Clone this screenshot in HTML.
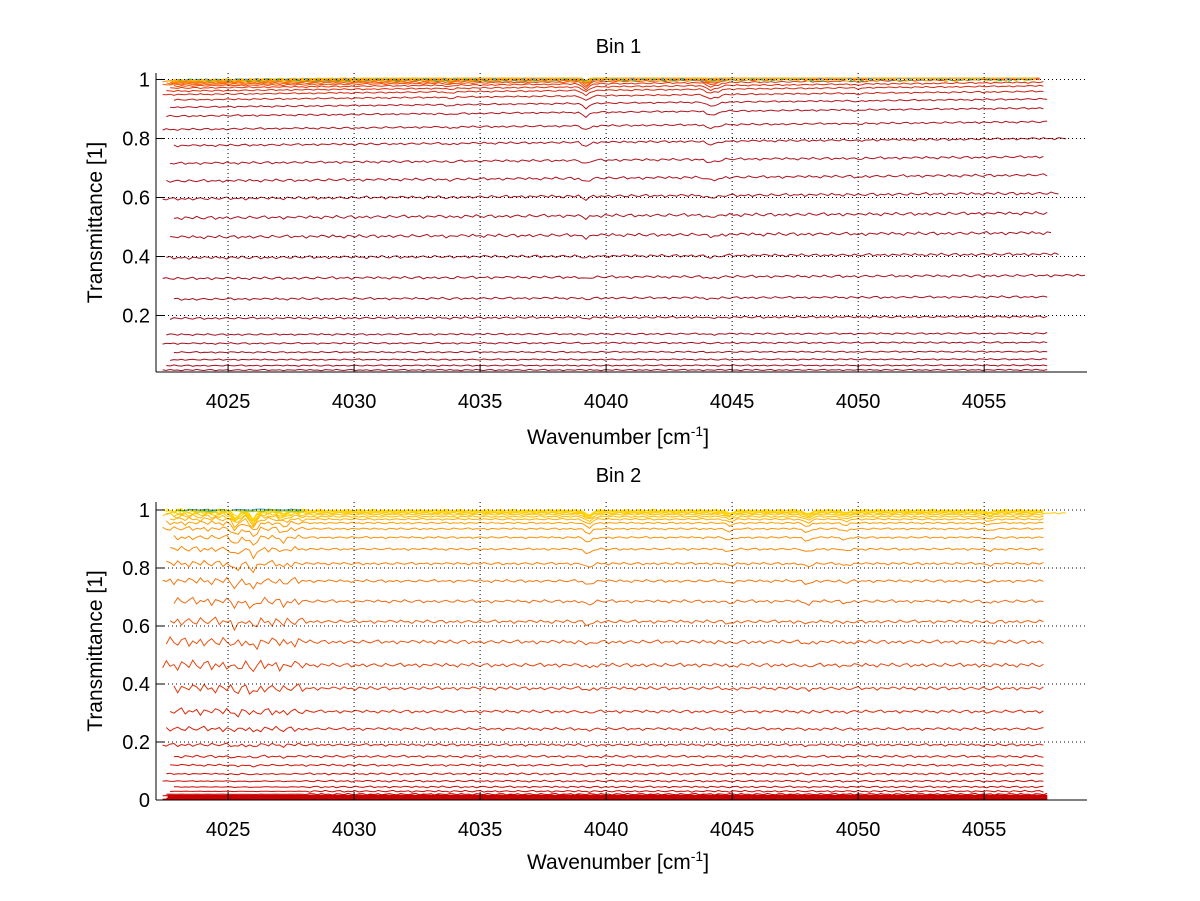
<!DOCTYPE html>
<html><head><meta charset="utf-8"><style>
html,body{margin:0;padding:0;background:#fff}
svg{display:block}
text{font-family:"Liberation Sans",sans-serif;fill:#000}
</style></head><body>
<svg id="chart" width="1200" height="901" viewBox="0 0 1200 901">
<rect width="1200" height="901" fill="#fff"/>
<g id="ax1"></g>
<g id="ax2"></g>
</svg>
<script>
// ---- data ----
const xTicks=[4025,4030,4035,4040,4045,4050,4055];
const bin1YTicks=[0.2,0.4,0.6,0.8,1];
const bin2YTicks=[0,0.2,0.4,0.6,0.8,1];
const bin1Levels=[0.015,0.03,0.05,0.075,0.105,0.135,0.19,0.255,0.325,0.395,0.465,0.53,0.595,0.655,0.715,0.775,0.83,0.875,0.905,0.93,0.948,0.96,0.97,0.977,0.982,0.986,0.989,0.991,0.993,0.995,0.997,0.998];
const bin1Ends=[4057.6,4057.6,4057.6,4057.6,4057.6,4057.6,4057.6,4057.6,4059.1,4058.0,4057.8,4057.6,4058.0,4057.6,4057.5,4058.3,4057.6,4057.5,4057.6,4057.4,4057.4,4057.4,4057.3,4057.3,4057.3,4057.3,4057.2,4057.2,4057.2,4057.2,4057.2,4057.2];
const bin1DipPos=[4039.2,4044.1,4044.4,4033.8,4050.0];
const bin1DipDepth=[0.018,0.014,0.01,0.005,0.004];
const bin2Levels=[0.003,0.006,0.009,0.012,0.015,0.02,0.03,0.045,0.065,0.09,0.12,0.15,0.19,0.245,0.305,0.385,0.465,0.545,0.615,0.685,0.755,0.815,0.865,0.905,0.935,0.955,0.968,0.977,0.984,0.989,0.992,0.995,0.997,0.999];
const bin2Ends=[4057.6,4057.6,4057.6,4057.6,4057.6,4057.6,4057.4,4057.4,4057.4,4057.4,4057.4,4057.4,4057.4,4057.4,4057.4,4057.4,4057.4,4057.4,4057.4,4057.4,4057.4,4057.4,4057.4,4057.4,4057.4,4057.4,4057.4,4057.4,4057.4,4058.3,4057.4,4057.4,4057.4,4057.4];
const bin2DipPos=[4025.3,4026.0,4027.2,4039.3,4044.9,4048.0,4049.5,4055.2];
const bin2DipDepth=[0.025,0.03,0.012,0.018,0.01,0.013,0.008,0.007];
const wiggle=[0.3,-0.5,0.8,-0.2,0.1,-0.9,0.6,0.2,-0.4,0.9,-0.1,-0.6,0.4,0.7,-0.8,0.2,-0.3,0.5,-0.7,0.1,0.6,-0.2,-0.5,0.8,0.0,-0.4,0.3,0.9,-0.6,0.2,-0.1,0.5,-0.9,0.4,0.1,-0.3,0.7];

// ---- layout ----
const NS="http://www.w3.org/2000/svg";
function mk(parent,tag,attrs){const e=document.createElementNS(NS,tag);for(const k in attrs)e.setAttribute(k,attrs[k]);parent.appendChild(e);return e;}
function colorFor(t,bin){
  const stops=bin===1?[[0,[160,16,32]],[0.9,[176,20,30]],[0.97,[230,50,10]],[0.99,[255,120,0]],[1,[255,200,0]]]
                     :[[0,[200,0,0]],[0.3,[220,40,10]],[0.7,[240,110,20]],[0.95,[255,150,0]],[1,[255,215,0]]];
  for(let i=1;i<stops.length;i++){if(t<=stops[i][0]){const a=stops[i-1],b=stops[i];const f=(t-a[0])/(b[0]-a[0]);
    const c=a[1].map((v,j)=>Math.round(v+(b[1][j]-v)*f));return `rgb(${c[0]},${c[1]},${c[2]})`;}}
  return "rgb(255,215,0)";
}
function drawAxes(g,cfg){
  const X=v=>cfg.left+(v-cfg.xmin)*(cfg.right-cfg.left)/(cfg.xmax-cfg.xmin);
  const Y=t=>cfg.y0-t*cfg.ppu;
  const sg=mk(g,"g",{});
  
  
  cfg.levels.forEach((lv,s)=>{
    let d="";const start=4022.4+(s%4)*0.15;
    for(let i=0,v=start;v<=cfg.ends[s];i++,v+=0.15){
      let amp=cfg.amp*(0.3+Math.min(lv,1-lv)*2+0.3);
      if(cfg.bin===2&&v<4028)amp*=2.5*Math.min(1,lv*3);
      let t=lv*(1+cfg.slope*(v-4022))+wiggle[(i+s*7)%wiggle.length]*amp;
      cfg.dipPos.forEach((p,k)=>{const dx=(v-p)/0.18;t-=cfg.dipDepth[k]*lv*Math.exp(-dx*dx);});
      t=Math.min(t,1.004);
      d+=(d?"L":"M")+X(v).toFixed(1)+","+Y(t).toFixed(1);
    }
    const p=mk(sg,"path",{d:d,fill:"none",stroke:colorFor(lv,cfg.bin),"stroke-width":1});
    
    
  });
  [["#30b040",0.998],["#40a0c0",1.0],["#c8d020",0.996]].forEach((c,k)=>{
    let d="";for(let i=0,v=4023+k*0.3;v<(cfg.bin===1?4057:4028);i++,v+=0.2){
      const t=c[1]+wiggle[(i*3+k)%wiggle.length]*0.004;d+=(d?"L":"M")+X(v).toFixed(1)+","+Y(t).toFixed(1);}
    const p=mk(sg,"path",{d:d,fill:"none",stroke:c[0],"stroke-width":1,"stroke-dasharray":cfg.bin===1?"4,6":"none"});
    
    
  });
  if(cfg.bin===2){const r=mk(sg,"rect",{x:X(4022.6),y:Y(0.018),width:X(4057.5)-X(4022.6),height:Y(0)-Y(0.018),fill:"#c80000"});
    }
  const gg=mk(g,"g",{stroke:"#000","stroke-width":1,"stroke-dasharray":"1,3"});
  
  
  xTicks.forEach(v=>mk(gg,"line",{x1:X(v),x2:X(v),y1:cfg.top,y2:cfg.bottom}));
  cfg.yTicks.forEach(t=>mk(gg,"line",{x1:cfg.left,x2:cfg.right,y1:Y(t),y2:Y(t)}));
  const ag=mk(g,"g",{stroke:"#000","stroke-width":1});
  mk(ag,"line",{x1:cfg.left,x2:cfg.left,y1:cfg.top,y2:cfg.bottom});
  mk(ag,"line",{x1:cfg.left,x2:cfg.right,y1:cfg.bottom,y2:cfg.bottom});
  xTicks.forEach(v=>{mk(ag,"line",{x1:X(v),x2:X(v),y1:cfg.bottom,y2:cfg.bottom-8});
    const tx=mk(g,"text",{x:X(v),y:cfg.bottom+36,"font-size":20,"text-anchor":"middle"});tx.textContent=v;
    
    });
  cfg.yTicks.forEach(t=>{mk(ag,"line",{x1:cfg.left,x2:cfg.left+8,y1:Y(t),y2:Y(t)});
    const tx=mk(g,"text",{x:cfg.left-6,y:Y(t)+7,"font-size":20,"text-anchor":"end"});tx.textContent=String(t);
    
    });
  const ti=mk(g,"text",{x:(cfg.left+cfg.right)/2-3,y:cfg.top-20,"font-size":20,"text-anchor":"middle"});ti.textContent=cfg.title;
  
  
  const xl=mk(g,"text",{x:618,y:cfg.bottom+cfg.xlOff,"font-size":21,"text-anchor":"middle"});
  xl.innerHTML='Wavenumber [cm<tspan dy="-8" font-size="14">-1</tspan><tspan dy="8">]</tspan>';
  
  
  const cy=(cfg.top+cfg.bottom)/2;
  const yl=mk(g,"text",{x:102,y:cy,"font-size":21,"text-anchor":"middle",transform:`rotate(-90 102 ${cy})`});yl.textContent="Transmittance [1]";
  
  
}
drawAxes(document.getElementById("ax1"),{bin:1,prefix:"bin1",title:"Bin 1",left:156,right:1087,top:73,bottom:372,xmin:4022.14,xmax:4059.08,y0:374.5,ppu:295,xlOff:72,
  yTicks:bin1YTicks,levels:bin1Levels,ends:bin1Ends,dipPos:bin1DipPos,dipDepth:bin1DipDepth,amp:0.004,slope:0.0009});
drawAxes(document.getElementById("ax2"),{bin:2,prefix:"bin2",title:"Bin 2",left:156,right:1087,top:502,bottom:800,xmin:4022.14,xmax:4059.08,y0:800,ppu:290,xlOff:69,
  yTicks:bin2YTicks,levels:bin2Levels,ends:bin2Ends,dipPos:bin2DipPos,dipDepth:bin2DipDepth,amp:0.005,slope:0.0});
</script>
</body></html>
